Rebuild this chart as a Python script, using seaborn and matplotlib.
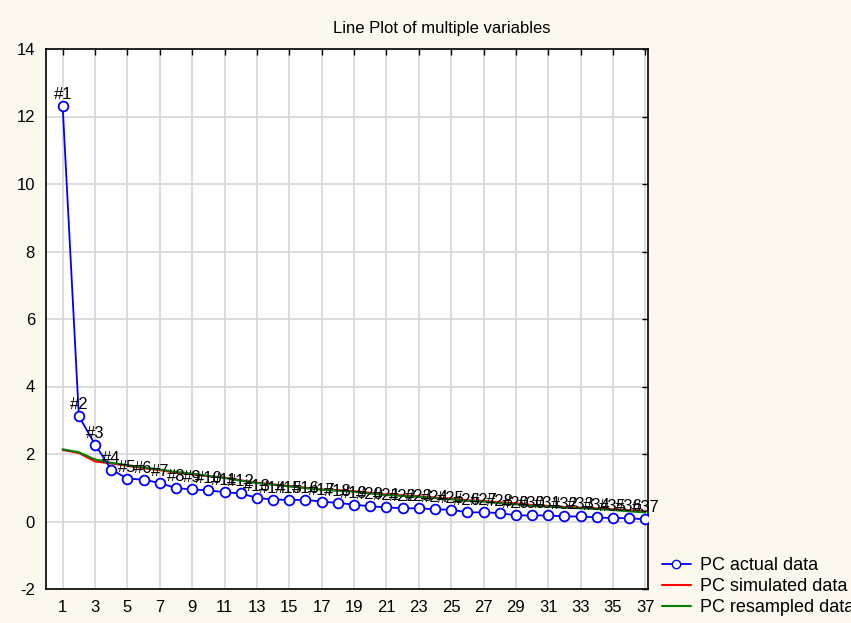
import matplotlib
matplotlib.use("Agg")
import matplotlib.pyplot as plt
import seaborn as sns
import pandas as pd
from matplotlib.lines import Line2D

components = list(range(1, 38))
actual = [12.30, 3.12, 2.28, 1.54, 1.27, 1.24, 1.14, 0.99, 0.95, 0.92, 0.87, 0.83,
          0.70, 0.65, 0.64, 0.64, 0.59, 0.55, 0.50, 0.45, 0.42, 0.39, 0.39, 0.36,
          0.35, 0.27, 0.27, 0.25, 0.18, 0.18, 0.18, 0.15, 0.15, 0.12, 0.10, 0.10, 0.06]
simulated = [2.12, 2.03, 1.78, 1.72, 1.65, 1.58, 1.52, 1.45, 1.40, 1.34, 1.30, 1.22,
             1.15, 1.10, 1.05, 1.00, 0.95, 0.93, 0.90, 0.85, 0.80, 0.78, 0.75, 0.71,
             0.68, 0.63, 0.61, 0.57, 0.54, 0.49, 0.46, 0.43, 0.41, 0.39, 0.36, 0.33, 0.30]
resampled = [2.14, 2.05, 1.84, 1.74, 1.67, 1.60, 1.54, 1.47, 1.42, 1.35, 1.29, 1.21,
             1.14, 1.09, 1.04, 0.99, 0.94, 0.91, 0.88, 0.83, 0.78, 0.76, 0.73, 0.69,
             0.66, 0.61, 0.59, 0.54, 0.51, 0.46, 0.44, 0.41, 0.39, 0.37, 0.34, 0.30, 0.27]
point_labels = [f"#{c}" for c in components]
x_ticks = list(range(1, 38, 2))
y_ticks = list(range(-2, 15, 2))
series_names = ["PC actual data", "PC simulated data", "PC resampled data"]
title = "Line Plot of multiple variables"

sns.set_style("white")
plt.rcParams['font.family'] = ['Liberation Sans', 'DejaVu Sans']
plt.rcParams['axes.unicode_minus'] = False
plt.rcParams['text.color'] = 'black'

bg = '#fdf8ee'
fig = plt.figure(figsize=(8.51, 6.23), dpi=100, facecolor=bg)
ax = fig.add_axes([46/851, 1-589/623, (648-46)/851, (589-49)/623])
ax.set_facecolor('white')

df = pd.DataFrame({"comp": components, "actual": actual,
                   "simulated": simulated, "resampled": resampled})

blue, red, green = '#0000ff', '#ff0000', '#008000'
sns.lineplot(data=df, x="comp", y="actual", ax=ax, color=blue, lw=1.3,
             marker='o', markersize=7, markerfacecolor='white',
             markeredgecolor=blue, markeredgewidth=1.3, zorder=4)
sns.lineplot(data=df, x="comp", y="simulated", ax=ax, color=red, lw=1.5, zorder=3)
sns.lineplot(data=df, x="comp", y="resampled", ax=ax, color=green, lw=1.5, zorder=3)

for c, v, lab in zip(components, actual, point_labels):
    ax.annotate(lab, (c, v), xytext=(0, 4), textcoords='offset pixels',
                ha='center', va='bottom', fontsize=12, color='black', zorder=5)

ax.set_xlim(-0.03, 37.16)
ax.set_ylim(-2, 14)
ax.set_xticks(x_ticks)
ax.set_yticks(y_ticks)
ax.grid(True, color='#d9d9d9', lw=1.3)
ax.set_axisbelow(True)
ax.tick_params(direction='in', length=4, width=1, color='black', labelcolor='black',
               top=True, right=True, labelsize=12, pad=8)
for s in ax.spines.values():
    s.set_visible(True)
    s.set_color('black')
    s.set_linewidth(1.2)
ax.set_xlabel("")
ax.set_ylabel("")

fig.text(442/851, 1-28/623, title, ha='center', va='center', fontsize=12, color='black')

handles = [Line2D([], [], color=blue, lw=1.3, marker='o', markersize=6,
                  markerfacecolor='white', markeredgecolor=blue),
           Line2D([], [], color=red, lw=1.5),
           Line2D([], [], color=green, lw=1.5)]
fig.legend(handles, series_names, loc='upper left',
           bbox_to_anchor=(662/851, 1-557/623), frameon=False, fontsize=13,
           borderpad=0, borderaxespad=0, handlelength=1.6, handletextpad=0.5,
           labelspacing=0.22)

fig.savefig("out.png", dpi=100, facecolor=bg)
